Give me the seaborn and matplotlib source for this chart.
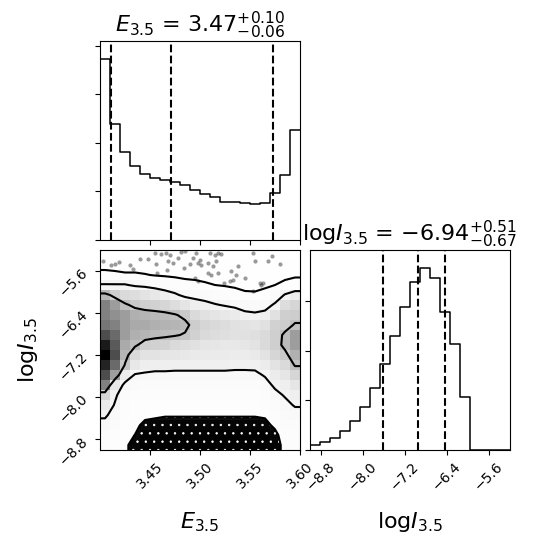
import numpy as np
import pandas as pd
import matplotlib
matplotlib.use("Agg")
import matplotlib.pyplot as plt
from matplotlib.colors import LinearSegmentedColormap
import seaborn as sns

# parameter ranges and binning
e_range = [3.40, 3.60]
logi_range = [-9.0, -5.2]
n_bins = 20

# 1D marginal histograms (counts per bin, low -> high)
e_counts = [3730, 2400, 1815, 1520, 1370, 1280, 1230, 1200, 1130, 1030,
            940, 890, 790, 790, 755, 735, 765, 960, 1335, 2260]
logi_counts = [94, 168, 236, 384, 579, 862, 1246, 1731, 2303, 2882,
               3401, 3670, 3468, 2788, 2135, 1077, 0, 0, 0, 0]

# 16/50/84 percent quantiles
e_quantiles = [3.411, 3.471, 3.573]
logi_quantiles = [-7.61, -6.94, -6.43]

e_ticks = [3.45, 3.50, 3.55, 3.60]
logi_ticks = [-8.8, -8.0, -7.2, -6.4, -5.6]
e_count_ticks = [0, 1000, 2000, 3000, 4000]
logi_count_ticks = [0, 1000, 2000, 3000]

e_label = "$E_{3.5}$"
logi_label = r"$\mathrm{log}I_{3.5}$"

# 2D density, one list per E bin (low E -> high E), values from high logI down to low logI
density_cols = [
    [3, 5, 11, 23, 55, 71, 71, 74, 84, 95, 100, 93, 84, 71, 42, 30, 24, 18, 14, 12],
    [3, 5, 10, 23, 45, 63, 67, 71, 77, 81, 84, 77, 63, 32, 24, 21, 17, 14, 12, 11],
    [3, 5, 9, 23, 40, 52, 63, 63, 63, 59, 55, 49, 30, 19, 15, 13, 12, 11, 10, 9],
    [3, 5, 9, 20, 38, 47, 57, 59, 57, 52, 40, 32, 21, 16, 13, 11, 10, 9.5, 7.9, 6],
    [3, 4, 8.5, 19, 35, 45, 55, 59, 55, 45, 35, 28, 20, 15, 13, 11, 9.5, 6.5, 4, 3],
    [3, 4, 7.5, 17, 32, 44, 54, 57, 53, 44, 35, 27, 19, 15, 13, 11, 9, 6, 4, 3],
    [3, 4, 7, 15, 28, 42, 53, 56, 52, 43, 34, 27, 19, 15, 13, 11, 8.5, 5.5, 4, 3],
    [3, 4, 6.5, 13, 24, 38, 51, 55, 51, 40, 33, 26, 19, 15, 13, 11, 8.5, 5.5, 4, 3],
    [3, 4, 6, 11, 19, 34, 47, 53, 49, 38, 32, 26, 19, 15, 13, 11, 8.5, 5.5, 4, 3],
    [3, 4, 6, 10, 18, 28, 40, 46, 44, 36, 31, 26, 19, 15, 13, 11, 8.5, 5.5, 4, 3],
    [3, 4, 5.5, 9, 16, 26, 36, 42, 40, 34, 31, 26, 19, 15, 13, 11, 8.5, 5.5, 4, 3],
    [3, 4, 5, 8, 14, 23, 34, 40, 38, 33, 30, 26, 19, 15, 13, 11, 8.5, 5.5, 4, 3],
    [3, 3.5, 5, 7.5, 12, 21, 32, 38, 37, 32, 30, 26, 19, 15, 13, 11, 8.5, 5.5, 4, 3],
    [3, 3.5, 4.5, 7, 10.5, 19, 30, 36, 36, 32, 29, 25, 19, 15, 13, 11, 8.5, 5.5, 4, 3],
    [3, 3.5, 4.5, 6.5, 9, 17, 25, 35, 36, 33, 29, 25, 19, 15, 13, 11, 8.5, 5.5, 4, 3],
    [3, 3.5, 4.5, 6.5, 8.8, 16, 24, 34, 37, 35, 31, 25, 19.5, 15, 13, 11, 8.5, 5.5, 4, 3],
    [3, 3.5, 4.5, 7, 10, 17, 26, 36, 40, 40, 35, 29, 23, 18, 14, 12, 9, 6, 4, 3],
    [3, 4, 5.5, 8, 14, 24, 36, 44, 45, 45, 42, 35, 29, 24, 19, 15, 12, 9.5, 6, 4],
    [3, 5, 6, 10, 23, 38, 45, 46, 52, 53, 47, 40, 33, 27, 23, 19, 16, 14, 12, 11],
    [3, 5, 7, 11, 29, 42, 46, 51, 63, 63, 57, 51, 42, 33, 27, 23, 18, 15, 13, 12],
]
contour_levels = [8, 22, 50]

# sparse samples outside the outer contour
pts_e = [3.403, 3.411, 3.415, 3.419, 3.430, 3.433, 3.440, 3.448, 3.455, 3.456,
         3.457, 3.461, 3.466, 3.468, 3.467, 3.470, 3.473, 3.478, 3.481, 3.484,
         3.485, 3.490, 3.493, 3.495, 3.496, 3.498, 3.498, 3.500, 3.501, 3.508,
         3.510, 3.513, 3.515, 3.516, 3.518, 3.521, 3.508, 3.511, 3.518, 3.524,
         3.530, 3.531, 3.533, 3.536, 3.538, 3.545, 3.553, 3.555, 3.553, 3.560,
         3.561, 3.563, 3.568, 3.572, 3.580]
pts_logi = [-5.409, -5.485, -5.466, -5.428, -5.485, -5.561, -5.371, -5.371, -5.257, -5.466,
            -5.637, -5.276, -5.257, -5.409, -5.580, -5.295, -5.447, -5.352, -5.238, -5.542,
            -5.219, -5.466, -5.352, -5.732, -5.257, -5.447, -5.789, -5.390, -5.485, -5.447,
            -5.257, -5.504, -5.295, -5.409, -5.257, -5.276, -5.637, -5.675, -5.637, -5.827,
            -5.789, -5.599, -5.770, -5.675, -5.504, -5.732, -5.257, -5.409, -5.979, -5.827,
            -5.865, -5.827, -5.409, -5.314, -5.466]

e_edges = np.linspace(e_range[0], e_range[1], n_bins + 1)
logi_edges = np.linspace(logi_range[0], logi_range[1], n_bins + 1)
e_mid = (e_edges[:-1] + e_edges[1:]) / 2
logi_mid = (logi_edges[:-1] + logi_edges[1:]) / 2

e_df = pd.DataFrame({"E": e_mid, "n": e_counts})
logi_df = pd.DataFrame({"logI": logi_mid, "n": logi_counts})

H = np.array(density_cols, dtype=float).T[::-1]  # rows: low logI -> high logI

fig = plt.figure(figsize=(5.5, 5.5), dpi=100)
ax_e = fig.add_axes([100 / 550, 310 / 550, 200 / 550, 199 / 550])
ax_2d = fig.add_axes([100 / 550, 100 / 550, 200 / 550, 200 / 550])
ax_i = fig.add_axes([310 / 550, 100 / 550, 200 / 550, 200 / 550])


def title_for(name, q):
    mid, up, lo = q[1], q[2] - q[1], q[1] - q[0]
    return f"{name} = ${mid:.2f}^{{+{up:.2f}}}_{{-{lo:.2f}}}$"


# top: E histogram
sns.histplot(data=e_df, x="E", weights="n", bins=n_bins, binrange=e_range,
             element="step", fill=False, color="k", linewidth=1.1, ax=ax_e)
for q in e_quantiles:
    ax_e.axvline(q, color="k", ls="--", lw=1.5)
ax_e.set_xlim(e_range)
ax_e.set_ylim(0, 1.1 * max(e_counts))
ax_e.set_xticks(e_ticks)
ax_e.set_xticklabels([])
ax_e.set_yticks(e_count_ticks)
ax_e.set_yticklabels([])
ax_e.set_xlabel("")
ax_e.set_ylabel("")
ax_e.set_title(title_for(e_label, e_quantiles), fontsize=16)

# 2D panel
sns.scatterplot(x=pts_e, y=pts_logi, color="k", alpha=0.4, s=9, linewidth=0,
                legend=False, ax=ax_2d, zorder=1)

Hp = np.pad(H, 1, mode="edge")
xp = np.concatenate([[e_range[0]], e_mid, [e_range[1]]])
yp = np.concatenate([[logi_range[0]], logi_mid, [logi_range[1]]])

# dense pile of samples at the low logI edge
low = yp < -7.6
plt.rcParams["hatch.color"] = "white"
plt.rcParams["hatch.linewidth"] = 0.5
ax_2d.contourf(xp, yp[low], Hp[low], levels=[0, contour_levels[0]], colors="k",
               hatches=[".."], zorder=1)

dens_cmap = LinearSegmentedColormap.from_list("dens", [(1, 1, 1, 0), (0, 0, 0, 1)])
ax_2d.pcolormesh(e_edges, logi_edges, H, cmap=dens_cmap, vmin=H.min(), vmax=H.max(),
                 shading="flat", zorder=2)
ax_2d.contour(xp, yp, Hp, levels=contour_levels, colors="k", linewidths=1.5, zorder=3)

ax_2d.set_xlim(e_range)
ax_2d.set_ylim(logi_range)
ax_2d.set_xticks(e_ticks)
ax_2d.set_xticklabels([f"{t:.2f}" for t in e_ticks], rotation=45)
ax_2d.set_yticks(logi_ticks)
ax_2d.set_yticklabels([f"{t:.1f}".replace("-", "\u2212") for t in logi_ticks], rotation=45)
ax_2d.set_xlabel(e_label, fontsize=16)
ax_2d.set_ylabel(logi_label, fontsize=16)
ax_2d.xaxis.set_label_coords(0.5, -0.3)
ax_2d.yaxis.set_label_coords(-0.3, 0.5)

# right: logI histogram
sns.histplot(data=logi_df, x="logI", weights="n", bins=n_bins, binrange=logi_range,
             element="step", fill=False, color="k", linewidth=1.1, ax=ax_i)
for q in logi_quantiles:
    ax_i.axvline(q, color="k", ls="--", lw=1.5)
ax_i.set_xlim(logi_range)
ax_i.set_ylim(0, 1.1 * max(logi_counts))
ax_i.set_xticks(logi_ticks)
ax_i.set_xticklabels([f"{t:.1f}".replace("-", "\u2212") for t in logi_ticks], rotation=45)
ax_i.set_yticks(logi_count_ticks)
ax_i.set_yticklabels([])
ax_i.set_ylabel("")
ax_i.set_xlabel(logi_label, fontsize=16)
ax_i.xaxis.set_label_coords(0.5, -0.3)
ax_i.set_title(title_for(logi_label, logi_quantiles), fontsize=16)

fig.savefig("out.png", dpi=100)
